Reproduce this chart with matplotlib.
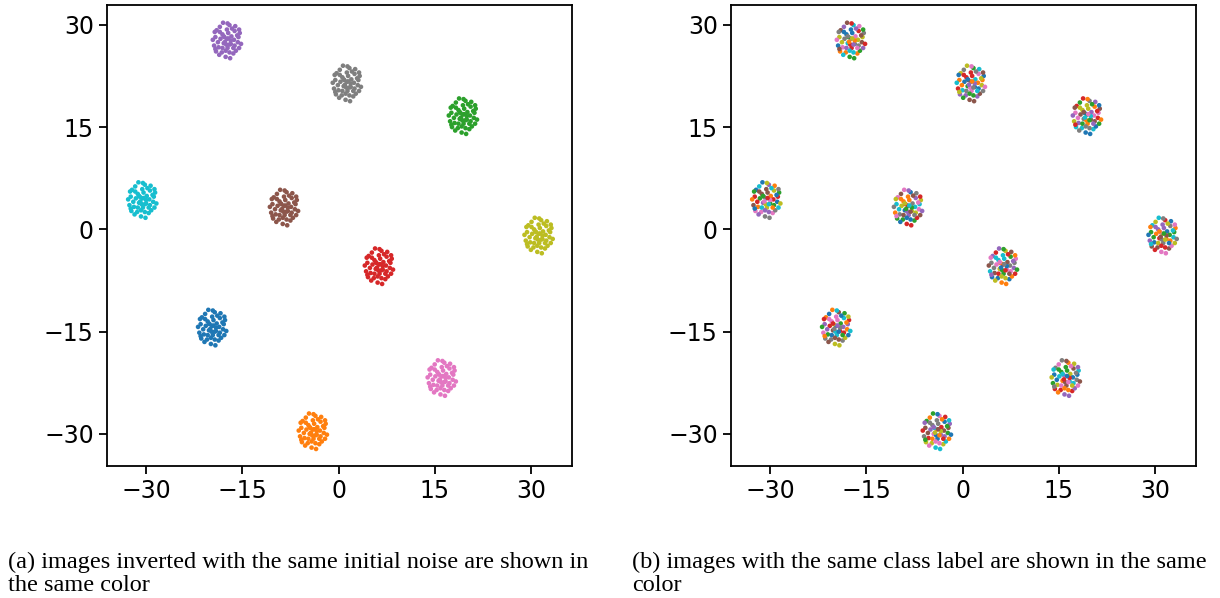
import numpy as np
from matplotlib import pyplot as plt

# центры кластеров (одинаковый начальный шум -> один кластер)
centers_x = [-19.7, -4.0, 19.4, 6.3, -17.4, -8.5, 16.1, 1.3, 31.2, -30.6]
centers_y = [-14.4, -29.6, 16.6, -5.4, 27.7, 3.2, -21.8, 21.4, -0.9, 4.3]

# смещения точек внутри кластера
offsets_x = [0.0, 0.6, -0.7, 1.2, -1.3, 0.4, -0.2, 1.7, -1.8, 1.0, -1.1, 2.0,
             -2.0, 0.1, 0.7, -0.5, 1.4, -1.6, 1.1, -0.8, 1.9, -1.9, 0.2, -0.1,
             1.3, -1.2, 0.5, -0.6, 1.8, -1.7, 0.8, -1.0, 0.0, 2.2, -2.2, 0.4,
             -0.4, 1.6, -1.4, 0.6, -0.7, 1.2, -1.1, 0.1, 1.0, -0.2, 1.9, -1.8,
             0.2, -0.3, 0.4, -0.5]
offsets_y = [0.25, -0.5, 0.9, 1.4, -1.0, 2.25, -2.4, -0.25, 0.5, -1.9, 2.0, 1.1,
             -0.75, -1.1, 0.6, -0.4, -1.5, 1.5, 0.1, -1.75, -1.1, 1.25, 1.1, -0.6,
             2.1, -2.1, -2.6, 2.6, 0.5, -1.6, 1.75, 0.25, 1.6, -0.5, 0.1, -1.75,
             0.5, 0.75, -0.25, 0.0, -1.1, -0.75, 1.25, 2.5, -1.1, -1.5, 1.6, -1.25,
             0.3, -0.2, -0.6, 0.6]

ticks = [-30, -15, 0, 15, 30]
captions = ["(a) images inverted with the same initial noise are shown in\nthe same color",
            "(b) images with the same class label are shown in the same\ncolor"]

palette = plt.rcParams['axes.prop_cycle'].by_key()['color']

X, Y, noise_c, label_c = [], [], [], []
for k in range(len(centers_x)):
    for i in range(len(offsets_x)):
        X.append(centers_x[k] + offsets_x[i])
        Y.append(centers_y[k] + offsets_y[i])
        noise_c.append(palette[k])
        label_c.append(palette[(i * 3 + k) % 10])

fig = plt.figure(figsize=(12.2, 5.98), dpi=100)
ax1 = fig.add_axes([0.0877, 0.2207, 0.3811, 0.7709])
ax2 = fig.add_axes([0.5992, 0.2207, 0.3811, 0.7709])

for ax, cols in [(ax1, noise_c), (ax2, label_c)]:
    ax.scatter(X, Y, c=cols, s=11, linewidths=0)
    ax.set_xlim(-36.1, 36.4)
    ax.set_ylim(-34.7, 32.9)
    ax.set_xticks(ticks)
    ax.set_yticks(ticks)
    ax.tick_params(labelsize=17, length=6, width=1.3)
    for sp in ax.spines.values():
        sp.set_linewidth(1.3)

fig.text(0.0066, 0.040, captions[0], fontsize=17.5, family='Liberation Serif',
         va='center', linespacing=1.15)
fig.text(0.518, 0.040, captions[1], fontsize=17.5, family='Liberation Serif',
         va='center', linespacing=1.15)

plt.savefig('out.png', dpi=100)
